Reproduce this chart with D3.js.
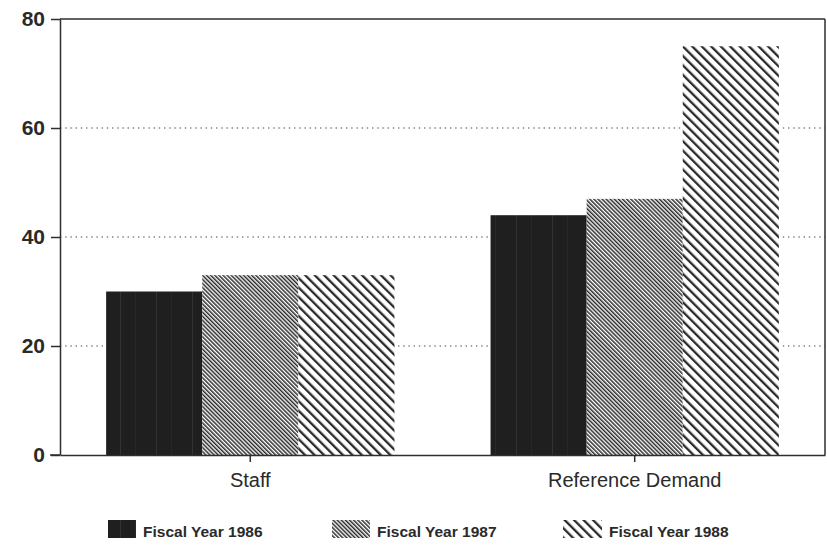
<!DOCTYPE html>
<html>
<head>
<meta charset="utf-8">
<script src="https://cdn.jsdelivr.net/npm/d3@7"></script>
<style>
  body { margin: 0; background: #fff; }
  text { font-family: "Liberation Sans", Arial, sans-serif; fill: #2a2a2a; }
</style>
</head>
<body>
<div id="chart-area"></div>
<script>
// data
const categories = ["Staff", "Reference Demand"];
const years = ["Fiscal Year 1986", "Fiscal Year 1987", "Fiscal Year 1988"];
const fy1986 = [30, 44];
const fy1987 = [33, 47];
const fy1988 = [33, 75];
const yTicks = [0, 20, 40, 60, 80];

const W = 827, H = 547;
const MARGIN = {left: 60, right: 2, top: 19, bottom: 92};

const svg = d3.select("#chart-area").append("svg")
    .attr("width", W)
    .attr("height", H);

// ---- patterns ----
const defs = svg.append("defs");

// 1986: nearly solid dark with faint vertical streaks
const p86 = defs.append("pattern")
    .attr("id", "p86").attr("patternUnits", "userSpaceOnUse")
    .attr("width", 36).attr("height", 10);
p86.append("rect").attr("width", 36).attr("height", 10).attr("fill", "#1f1f1f");
p86.append("rect").attr("x", 12).attr("width", 1).attr("height", 10).attr("fill", "#333");
p86.append("rect").attr("x", 27).attr("width", 0.7).attr("height", 10).attr("fill", "#2b2b2b");

// 1987: dense diagonal hatch
const p87 = defs.append("pattern")
    .attr("id", "p87").attr("patternUnits", "userSpaceOnUse")
    .attr("width", 2.9).attr("height", 10)
    .attr("patternTransform", "rotate(-45)");
p87.append("rect").attr("width", 2.9).attr("height", 10).attr("fill", "#fff");
p87.append("rect").attr("width", 1.5).attr("height", 10).attr("fill", "#2a2a2a");

// 1988: wide diagonal hatch
const p88 = defs.append("pattern")
    .attr("id", "p88").attr("patternUnits", "userSpaceOnUse")
    .attr("width", 6.7).attr("height", 10)
    .attr("patternTransform", "rotate(-45)");
p88.append("rect").attr("width", 6.7).attr("height", 10).attr("fill", "#fff");
p88.append("rect").attr("width", 2.3).attr("height", 10).attr("fill", "#2a2a2a");

const fills = ["url(#p86)", "url(#p87)", "url(#p88)"];

// ---- scales ----
const x0 = d3.scaleBand()
    .domain(categories)
    .range([MARGIN.left, W - MARGIN.right])
    .paddingInner(0.25)
    .paddingOuter(0.12);

const x1 = d3.scaleBand()
    .domain(years)
    .range([0, x0.bandwidth()])
    .padding(0);

const y = d3.scaleLinear()
    .domain([0, 80])
    .range([H - MARGIN.bottom, MARGIN.top]);

// gridlines
svg.append("g").selectAll("line")
    .data(yTicks.filter(t => t > 0 && t < 80))
    .join("line")
    .attr("x1", MARGIN.left).attr("x2", W - MARGIN.right)
    .attr("y1", d => y(d)).attr("y2", d => y(d))
    .attr("stroke", "#444")
    .attr("stroke-width", 1.2)
    .attr("stroke-dasharray", "1.4,3.8");

// bars
const series = years.map((yr, i) => ({
    year: yr,
    values: [fy1986, fy1987, fy1988][i]
}));

const rows = [];
categories.forEach((c, ci) => {
    series.forEach((s, si) => rows.push({cat: c, year: s.year, value: s.values[ci], fill: fills[si]}));
});

svg.append("g").selectAll("rect")
    .data(rows)
    .join("rect")
    .attr("x", d => x0(d.cat) + x1(d.year))
    .attr("y", d => y(d.value))
    .attr("width", x1.bandwidth())
    .attr("height", d => y(0) - y(d.value))
    .attr("fill", d => d.fill);

// frame
const frame = svg.append("g").attr("stroke", "#2e2e2e").attr("stroke-width", 1.5).attr("fill", "none");
frame.append("line").attr("x1", MARGIN.left).attr("x2", W - MARGIN.right).attr("y1", y(80)).attr("y2", y(80));
frame.append("line").attr("x1", W - MARGIN.right).attr("x2", W - MARGIN.right).attr("y1", y(80)).attr("y2", y(0));

// y axis
const yAxis = svg.append("g")
    .attr("transform", `translate(${MARGIN.left},0)`)
    .call(d3.axisLeft(y).tickValues(yTicks).tickSize(9).tickPadding(6).tickSizeOuter(0));
yAxis.select(".domain").attr("stroke", "#2e2e2e").attr("stroke-width", 1.5);
yAxis.selectAll(".tick line").attr("stroke", "#2e2e2e").attr("stroke-width", 1.5);
yAxis.selectAll("text")
    .style("font-size", "21px")
    .style("font-weight", "bold")
    .style("font-family", "'Liberation Sans', Arial, sans-serif")
    .attr("fill", "#2a2a2a");

// x axis
const xAxis = svg.append("g")
    .attr("transform", `translate(0,${y(0)})`)
    .call(d3.axisBottom(x0).tickSize(7).tickPadding(11).tickSizeOuter(0));
xAxis.select(".domain").attr("stroke", "#2e2e2e").attr("stroke-width", 1.5);
xAxis.selectAll(".tick line").attr("stroke", "#2e2e2e").attr("stroke-width", 1.5);
xAxis.selectAll("text")
    .style("font-size", "20px")
    .style("font-family", "'Liberation Sans', Arial, sans-serif")
    .attr("fill", "#2a2a2a");
// bottom line reaches left past the y axis, like the 0 tick
svg.append("line")
    .attr("x1", MARGIN.left - 10).attr("x2", MARGIN.left)
    .attr("y1", y(0)).attr("y2", y(0))
    .attr("stroke", "#2e2e2e").attr("stroke-width", 1.5);

// legend
const legendX = [108, 332, 563];
const swatchW = [28, 38, 39];
const legend = svg.append("g").selectAll("g")
    .data(years)
    .join("g")
    .attr("transform", (d, i) => `translate(${legendX[i]},520)`);
legend.append("rect")
    .attr("width", (d, i) => swatchW[i])
    .attr("height", 18)
    .attr("fill", (d, i) => fills[i]);
legend.append("text")
    .attr("x", (d, i) => swatchW[i] + 7)
    .attr("y", 17)
    .style("font-size", "15.5px")
    .style("font-weight", "bold")
    .text(d => d);
</script>
</body>
</html>
